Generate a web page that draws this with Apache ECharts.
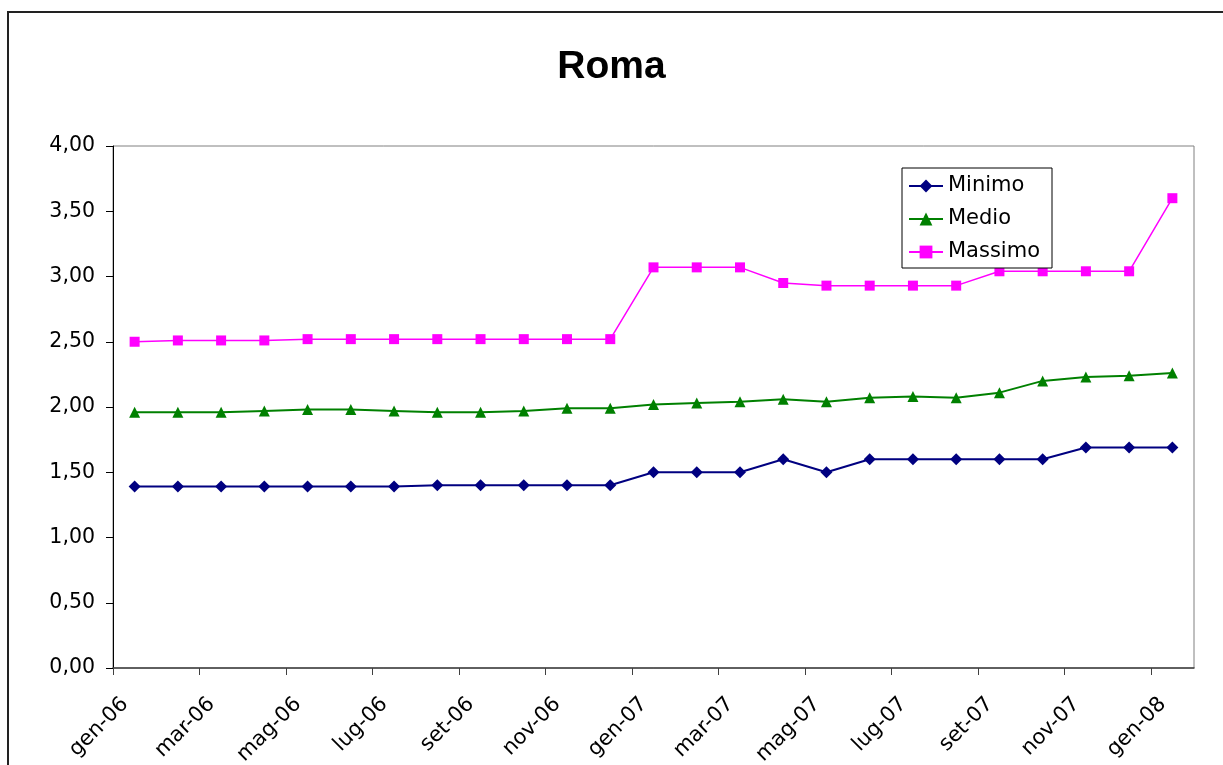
<!DOCTYPE html>
<html>
<head>
<meta charset="utf-8">
<script src="https://cdn.jsdelivr.net/npm/echarts@6/dist/echarts.min.js"></script>
<style>
  html, body { margin: 0; padding: 0; background: #ffffff; }
  #chart { width: 1223px; height: 765px; }
</style>
</head>
<body>
<div id="chart"></div>
<script>
// Month labels at the tick marks (month boundaries), gen-06 .. feb-08
var tickMonths = ['gen-06','feb-06','mar-06','apr-06','mag-06','giu-06','lug-06','ago-06','set-06','ott-06','nov-06','dic-06',
                  'gen-07','feb-07','mar-07','apr-07','mag-07','giu-07','lug-07','ago-07','set-07','ott-07','nov-07','dic-07',
                  'gen-08','feb-08'];
// Data categories: one per month, gen-06 .. gen-08
var categories = tickMonths.slice(0, 25);

var minimo  = [1.39,1.39,1.39,1.39,1.39,1.39,1.39,1.40,1.40,1.40,1.40,1.40,1.50,1.50,1.50,1.60,1.50,1.60,1.60,1.60,1.60,1.60,1.69,1.69,1.69];
var medio   = [1.96,1.96,1.96,1.97,1.98,1.98,1.97,1.96,1.96,1.97,1.99,1.99,2.02,2.03,2.04,2.06,2.04,2.07,2.08,2.07,2.11,2.20,2.23,2.24,2.26];
var massimo = [2.50,2.51,2.51,2.51,2.52,2.52,2.52,2.52,2.52,2.52,2.52,2.52,3.07,3.07,3.07,2.95,2.93,2.93,2.93,2.93,3.04,3.04,3.04,3.04,3.60];

var seriesNames = ['Minimo', 'Medio', 'Massimo'];
var AXIS_FONT = 'DejaVu Sans';

var chart = echarts.init(document.getElementById('chart'), null, { renderer: 'canvas' });
chart.setOption({
  backgroundColor: '#ffffff',
  animation: false,
  title: {
    text: 'Roma',
    left: 'center',
    top: 43,
    textStyle: { fontFamily: 'Liberation Sans', fontWeight: 'bold', fontSize: 39, color: '#000' }
  },
  graphic: [{
    type: 'rect',
    shape: { x: 8, y: 12, width: 1400, height: 900 },
    style: { fill: 'none', stroke: '#222', lineWidth: 2 },
    silent: true,
    z: -1
  }],
  legend: {
    orient: 'vertical',
    left: 902,
    top: 168,
    padding: [7, 12, 5, 6],
    itemGap: 11,
    itemWidth: 34,
    itemHeight: 16,
    borderColor: '#000',
    borderWidth: 1,
    backgroundColor: '#fff',
    textStyle: { fontFamily: AXIS_FONT, fontSize: 21, color: '#000', lineHeight: 22 },
    data: seriesNames
  },
  grid: {
    left: 113, right: 29, top: 146, bottom: 97,
    outerBoundsMode: 'none',
    containLabel: false,
    show: true, borderColor: '#808080', borderWidth: 1, backgroundColor: 'transparent'
  },
  xAxis: [{
    type: 'category',
    data: categories,
    boundaryGap: true,
    position: 'bottom',
    axisLine: { show: true, lineStyle: { color: '#404040', width: 1.5 } },
    axisTick: { show: false },
    axisLabel: { show: false },
    splitLine: { show: false }
  }, {
    type: 'category',
    data: tickMonths,
    boundaryGap: false,
    position: 'bottom',
    axisLine: { show: false },
    axisTick: { show: true, interval: 1, length: 7, lineStyle: { color: '#404040', width: 1 } },
    axisLabel: {
      interval: 1, rotate: 45, margin: 21, align: 'right', verticalAlign: 'top', lineHeight: 34,
      fontFamily: AXIS_FONT, fontSize: 21, color: '#000'
    },
    splitLine: { show: false }
  }],
  yAxis: {
    type: 'value',
    min: 0, max: 4, interval: 0.5,
    axisLine: { show: true, lineStyle: { color: '#000', width: 1 } },
    axisTick: { show: true, length: 7, lineStyle: { color: '#000' } },
    axisLabel: {
      margin: 18, fontFamily: AXIS_FONT, fontSize: 20.5, color: '#000',
      formatter: function (v) { return v.toFixed(2).replace('.', ','); }
    },
    splitLine: { show: false }
  },
  series: [{
    name: 'Minimo', type: 'line', xAxisIndex: 0, data: minimo,
    symbol: 'diamond', symbolSize: 12, color: '#000080',
    lineStyle: { width: 2, color: '#000080' }, itemStyle: { color: '#000080' }
  }, {
    name: 'Medio', type: 'line', xAxisIndex: 0, data: medio,
    symbol: 'triangle', symbolSize: 11, color: '#008000',
    lineStyle: { width: 2, color: '#008000' }, itemStyle: { color: '#008000' }
  }, {
    name: 'Massimo', type: 'line', xAxisIndex: 0, data: massimo,
    symbol: 'rect', symbolSize: 10, color: '#ff00ff',
    lineStyle: { width: 1.5, color: '#ff00ff' }, itemStyle: { color: '#ff00ff' }
  }]
});
</script>
</body>
</html>
